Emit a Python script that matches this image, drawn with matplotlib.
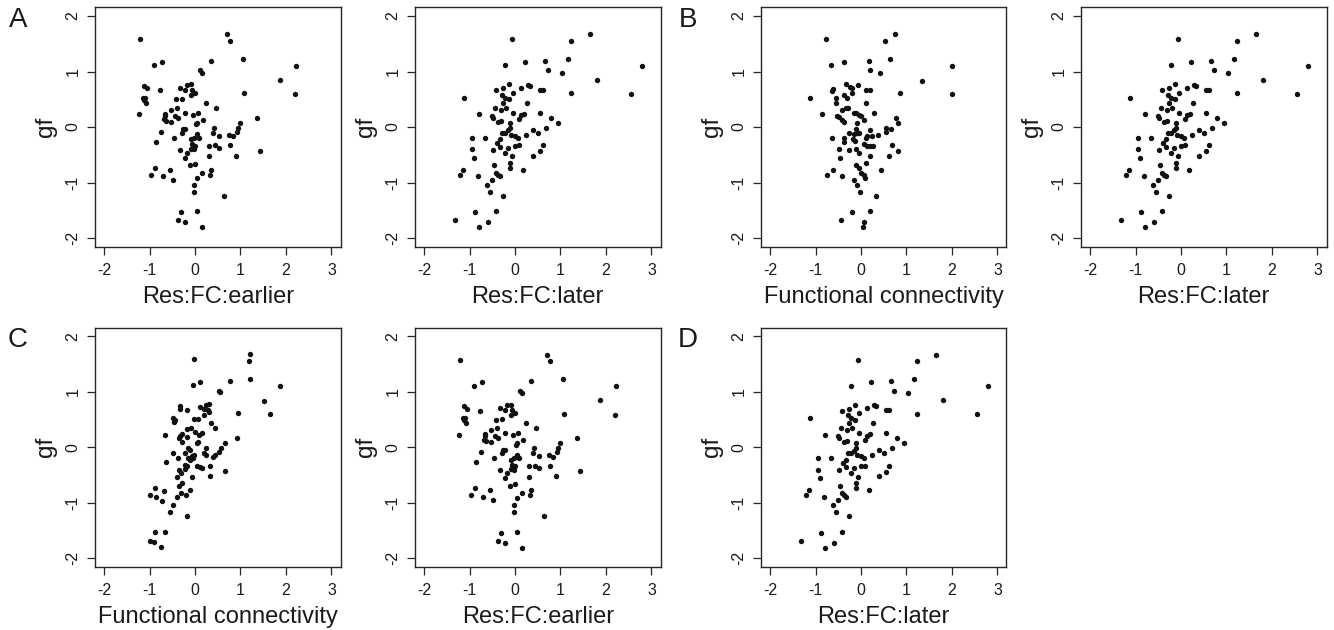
import matplotlib
matplotlib.use('Agg')
import matplotlib.pyplot as plt

plt.rcParams['font.family'] = ['Liberation Sans', 'DejaVu Sans']

# Res:FC:earlier vs gf (panels A left, C middle)
earlier_x = [-1.20, 0.71, 0.78, 1.05, 0.36, -0.90, -0.72, 0.10, 0.15, -1.12,
             -1.06, -0.76, -0.33, -0.23, -0.17, -0.08, -0.06, 0.01, -0.09, 1.08,
             -1.15, -1.09, -1.12, -1.08, -0.41, -0.28, 0.25, 0.46, -1.24, -0.66,
             -0.67, -0.68, -0.64, -0.52, -0.40, -0.44, -0.38, -0.52, -0.21, -0.04,
             0.07, 0.18, 0.05, 0.02, 1.36, 0.99, 0.95, 0.92, 0.74, 0.83,
             0.41, 0.40, 0.52, -0.26, -0.21, -0.28, -0.74, -0.86, -0.47, -0.09,
             -0.03, 0.05, 0.09, -0.06, 0.01, -0.09, -0.03, -0.05, -0.32, -0.17,
             -0.22, 0.31, 0.44, 0.52, 0.78, 1.42, 0.91, 0.30, -0.11, 0.01,
             0.36, 0.32, 0.15, 0.05, -0.87, -0.97, -0.71, -0.54, -0.49, -0.03,
             -0.03, 0.64, -0.30, -0.38, -0.22, 0.05, 0.15, 2.23, 2.20, 1.86]
earlier_y = [1.58, 1.67, 1.55, 1.23, 1.19, 1.11, 1.18, 1.02, 0.98, 0.74,
             0.70, 0.66, 0.71, 0.67, 0.76, 0.77, 0.67, 0.62, 0.58, 0.61,
             0.52, 0.52, 0.49, 0.44, 0.50, 0.51, 0.43, 0.35, 0.23, 0.24,
             0.20, 0.14, 0.11, 0.31, 0.35, 0.20, 0.17, 0.10, 0.26, 0.22,
             0.25, 0.13, 0.08, 0.05, 0.16, 0.08, -0.02, -0.09, -0.14, -0.17,
             -0.02, -0.11, -0.16, -0.04, -0.04, -0.11, -0.09, -0.27, -0.19, -0.22,
             -0.19, -0.13, -0.19, -0.31, -0.34, -0.39, -0.40, -0.35, -0.41, -0.47,
             -0.55, -0.34, -0.33, -0.37, -0.33, -0.43, -0.52, -0.53, -0.69, -0.66,
             -0.77, -0.86, -0.82, -0.91, -0.74, -0.86, -0.89, -0.77, -0.95, -1.04,
             -1.17, -1.24, -1.54, -1.68, -1.72, -1.52, -1.81, 1.10, 0.59, 0.85]

# Res:FC:later vs gf (panels A right, B right, D)
later_x = [-0.06, 1.65, 1.24, 1.16, 0.67, 0.21, -0.23, 0.73, 1.04, -0.14,
           -0.26, -0.41, -0.05, -0.29, 0.14, 0.29, 0.32, 0.54, 0.62, 1.24,
           -1.12, -0.22, -0.13, -0.26, 0.26, -0.45, -0.31, -0.20, -0.80, -0.50,
           -0.48, -0.04, 0.13, 0.19, 0.09, 0.54, 0.79, 0.95, -0.38, -0.31,
           -0.11, -0.12, -0.16, -0.28, -0.21, -0.08, 0.00, 0.07, 0.24, 0.40,
           0.50, 0.69, -0.95, -0.67, -0.33, -0.39, -0.34, -0.48, -0.95, -0.91,
           -0.23, -0.15, -0.01, 0.09, -0.06, 0.62, 0.54, 0.40, -1.14, -1.20,
           -0.81, -0.46, -0.41, -0.34, -0.50, -0.61, -0.56, -0.12, -0.10, 0.18,
           -0.26, -0.87, -0.42, -1.31, -0.59, -0.79, -0.37, 1.80, 2.55, 2.80]
later_y = [1.58, 1.67, 1.55, 1.23, 1.19, 1.18, 1.11, 1.02, 0.98, 0.77,
           0.70, 0.66, 0.62, 0.58, 0.71, 0.76, 0.74, 0.67, 0.67, 0.61,
           0.52, 0.53, 0.50, 0.44, 0.43, 0.35, 0.31, 0.35, 0.23, 0.20,
           0.17, 0.26, 0.21, 0.24, 0.14, 0.25, 0.16, 0.08, 0.09, 0.11,
           0.07, -0.02, -0.06, -0.11, -0.11, -0.14, -0.16, -0.19, -0.14, -0.05,
           -0.10, -0.02, -0.20, -0.19, -0.22, -0.28, -0.36, -0.41, -0.40, -0.55,
           -0.47, -0.37, -0.34, -0.33, -0.53, -0.33, -0.44, -0.52, -0.77, -0.86,
           -0.89, -0.69, -0.83, -0.89, -0.95, -1.04, -1.17, -0.65, -0.74, -0.77,
           -1.24, -1.54, -1.52, -1.68, -1.72, -1.81, -0.86, 0.85, 0.60, 1.10]

# Functional connectivity vs gf, panel B left
fc_b_x = [-0.78, 0.74, 0.53, 0.64, 0.17, -0.37, -0.67, 0.20, 0.42, 1.35,
          -0.34, -0.25, -0.19, -0.07, -0.61, -0.63, -0.37, -0.31, -0.20, 0.11,
          0.20, 0.86, -1.12, -0.54, -0.54, -0.34, -0.28, -0.41, 0.11, -0.86,
          -0.53, -0.48, -0.42, -0.38, -0.16, -0.12, -0.04, 0.01, 0.07, 0.29,
          -0.08, 0.78, 0.81, 0.55, 0.56, 0.67, 0.20, 0.37, -0.12, -0.09,
          -0.04, -0.26, -0.16, 0.24, 0.11, 0.13, -0.64, -0.37, -0.37, -0.17,
          -0.13, 0.07, 0.13, 0.19, 0.26, -0.12, -0.26, -0.49, -0.46, -0.04,
          0.19, 0.68, 0.81, 0.62, 0.12, -0.12, -0.04, 0.01, 0.06, 0.09,
          -0.62, -0.75, -0.42, 0.43, -0.15, -0.09, -0.02, 0.34, -0.19, 0.19,
          -0.44, 0.07, 0.04, 2.00, 2.00]
fc_b_y = [1.58, 1.67, 1.55, 1.23, 1.19, 1.18, 1.11, 1.02, 0.98, 0.83,
          0.77, 0.73, 0.71, 0.76, 0.69, 0.65, 0.58, 0.52, 0.62, 0.67,
          0.67, 0.61, 0.52, 0.52, 0.44, 0.35, 0.35, 0.31, 0.43, 0.23,
          0.20, 0.18, 0.13, 0.09, 0.26, 0.25, 0.22, 0.20, 0.13, 0.25,
          0.07, 0.16, 0.08, -0.01, -0.09, -0.03, -0.05, -0.14, -0.04, -0.10,
          -0.10, -0.10, -0.13, -0.17, -0.19, -0.17, -0.20, -0.20, -0.27, -0.22,
          -0.26, -0.31, -0.35, -0.34, -0.34, -0.40, -0.41, -0.40, -0.55, -0.46,
          -0.53, -0.33, -0.43, -0.52, -0.65, -0.69, -0.74, -0.82, -0.86, -0.91,
          -0.77, -0.86, -0.89, -0.77, -0.95, -1.04, -1.17, -1.24, -1.54, -1.52,
          -1.68, -1.72, -1.81, 1.10, 0.60]

# Functional connectivity vs gf, panel C left
fc_c_x = [-0.02, 1.21, 1.19, 1.21, 0.76, 0.10, -0.05, 0.53, 0.54, 1.51,
          -0.34, -0.33, -0.17, 0.12, 0.19, 0.25, 0.31, 0.28, 0.31, 0.20,
          0.95, -0.48, -0.45, -0.47, -0.03, 0.06, 0.36, 0.44, -0.66, -0.18,
          -0.09, -0.29, -0.34, -0.36, -0.29, -0.18, -0.01, 0.09, 0.15, 0.04,
          0.07, -0.15, -0.12, -0.23, -0.49, -0.38, -0.15, -0.07, -0.04, -0.03,
          -0.11, 0.25, 0.19, 0.24, 0.39, 0.43, 0.52, 0.57, 0.66, 0.92,
          -0.64, -0.21, -0.17, -0.23, -0.36, -0.30, -0.39, -0.07, 0.04, 0.10,
          0.15, 0.33, 0.33, 0.67, -0.36, -0.28, -0.31, -0.20, -0.12, -0.39,
          -0.87, -0.68, -0.99, -0.85, -0.73, -0.49, -0.55, -0.17, -0.89, -0.66,
          -1.00, -0.91, -0.74, 1.87, 1.65]
fc_c_y = [1.59, 1.68, 1.56, 1.23, 1.20, 1.18, 1.12, 1.02, 0.99, 0.84,
          0.75, 0.70, 0.67, 0.72, 0.70, 0.76, 0.78, 0.67, 0.63, 0.58,
          0.62, 0.52, 0.49, 0.45, 0.51, 0.51, 0.43, 0.35, 0.23, 0.33,
          0.35, 0.24, 0.21, 0.16, 0.10, 0.18, 0.27, 0.22, 0.25, 0.07,
          0.10, -0.01, -0.04, -0.11, -0.10, -0.19, -0.20, -0.15, -0.19, -0.13,
          -0.22, -0.01, -0.10, -0.13, -0.18, -0.14, -0.09, -0.02, 0.08, 0.16,
          -0.26, -0.31, -0.33, -0.39, -0.41, -0.46, -0.54, -0.53, -0.34, -0.35,
          -0.38, -0.33, -0.51, -0.43, -0.69, -0.65, -0.83, -0.85, -0.77, -0.90,
          -0.73, -0.78, -0.86, -0.90, -0.96, -1.04, -1.17, -1.24, -1.53, -1.52,
          -1.68, -1.71, -1.80, 1.10, 0.60]

x_ticks = [-2, -1, 0, 1, 2, 3]
y_ticks = [-2, -1, 0, 1, 2]

W, H = 1334, 630
AX_W, AX_H = 245.5, 239.7
ink = '#262626'

fig = plt.figure(figsize=(W / 100, H / 100), dpi=100)

# (left px, top px, x, y, xlabel)
panels = [
    (95, 7.2, earlier_x, earlier_y, 'Res:FC:earlier'),
    (415, 7.2, later_x, later_y, 'Res:FC:later'),
    (761, 7.2, fc_b_x, fc_b_y, 'Functional connectivity'),
    (1081, 7.2, later_x, later_y, 'Res:FC:later'),
    (95, 327.5, fc_c_x, fc_c_y, 'Functional connectivity'),
    (415, 327.5, earlier_x, earlier_y, 'Res:FC:earlier'),
    (761, 327.5, later_x, later_y, 'Res:FC:later'),
]

for left, top, xs, ys, xlab in panels:
    ax = fig.add_axes([left / W, 1 - (top + AX_H) / H, AX_W / W, AX_H / H])
    ax.scatter(xs, ys, s=15, c='#111111', linewidths=0)
    ax.set_xlim(-2.2, 3.2)
    ax.set_ylim(-2.16, 2.16)
    ax.set_xticks(x_ticks)
    ax.set_yticks(y_ticks)
    ax.set_xticklabels([str(t) for t in x_ticks])
    ax.set_yticklabels([str(t) for t in y_ticks], rotation=90, va='center')
    ax.tick_params(axis='both', length=5.8, width=0.9, color=ink, labelsize=11.5, labelcolor='#1a1a1a')
    ax.tick_params(axis='x', pad=5.5)
    ax.tick_params(axis='y', pad=4.5)
    for sp in ax.spines.values():
        sp.set_color(ink)
        sp.set_linewidth(1.0)
    cx = left + AX_W / 2
    fig.text(cx / W, 1 - (top + AX_H + 56) / H, xlab, ha='center', va='baseline',
             fontsize=17, color='#1a1a1a')
    fig.text((left - 49) / W, 1 - (top + AX_H / 2) / H, 'gf', ha='center', va='center',
             rotation=90, fontsize=17.5, color='#1a1a1a')

for letter, px, py in [('A', 18, 20), ('B', 688, 20), ('C', 18, 340), ('D', 688, 340)]:
    fig.text(px / W, 1 - py / H, letter, ha='center', va='center', fontsize=20, color='#1a1a1a')

fig.savefig('out.png', dpi=100)
